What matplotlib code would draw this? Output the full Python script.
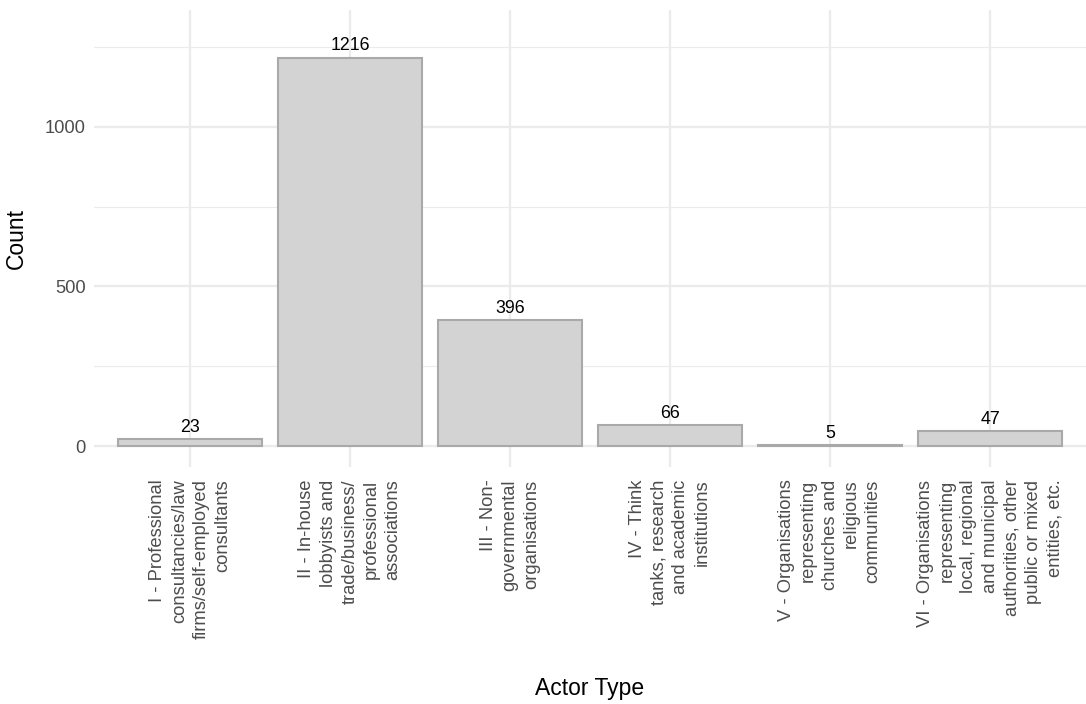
import matplotlib
matplotlib.use("Agg")
import matplotlib.pyplot as plt
from matplotlib.ticker import MultipleLocator

plt.rcParams["font.family"] = ["Liberation Sans", "DejaVu Sans"]

actor_types = [
    "I - Professional\nconsultancies/law\nfirms/self-employed\nconsultants",
    "II - In-house\nlobbyists and\ntrade/business/\nprofessional\nassociations",
    "III - Non-\ngovernmental\norganisations",
    "IV - Think\ntanks, research\nand academic\ninstitutions",
    "V - Organisations\nrepresenting\nchurches and\nreligious\ncommunities",
    "VI - Organisations\nrepresenting\nlocal, regional\nand municipal\nauthorities, other\npublic or mixed\nentities, etc.",
]
counts = [23, 1216, 396, 66, 5, 47]


def main():
    fig = plt.figure(figsize=(1086 / 150, 704 / 150), dpi=150)
    ax = fig.add_axes([0.0866, 0.3366, 0.9134, 0.6492])

    x = list(range(1, len(counts) + 1))
    ax.bar(x, counts, width=0.9, color="#D3D3D3", edgecolor="#A9A9A9",
           linewidth=1.0, zorder=3)

    # value labels above the bars
    for xi, c in zip(x, counts):
        ax.annotate(str(c), (xi, c), xytext=(0, 1.5), textcoords="offset points",
                    ha="center", va="bottom", fontsize=8.5, color="black", zorder=4)

    ax.set_xlim(0.4, 6.6)
    ax.set_ylim(-65, 1365)
    ax.yaxis.set_major_locator(MultipleLocator(500))
    ax.yaxis.set_minor_locator(MultipleLocator(250))

    ax.grid(True, which="major", color="#EBEBEB", linewidth=1.1, zorder=0)
    ax.grid(True, which="minor", axis="y", color="#EBEBEB", linewidth=0.55, zorder=0)
    for s in ax.spines.values():
        s.set_visible(False)

    ax.set_xticks(x)
    ax.set_xticklabels(actor_types, rotation=90, ha="center", va="top",
                       multialignment="right", linespacing=1.35)
    ax.tick_params(axis="both", which="both", length=0, labelsize=8.8,
                   labelcolor="#4D4D4D")
    ax.tick_params(axis="x", pad=6)
    ax.tick_params(axis="y", pad=4)

    ax.set_ylabel("Count", fontsize=11, labelpad=8)
    fig.text(0.5 + 0.0866 / 2, 1 - 688 / 704, "Actor Type", ha="center", va="center",
             fontsize=11)

    fig.savefig("out.png", dpi=150)


if __name__ == "__main__":
    main()
